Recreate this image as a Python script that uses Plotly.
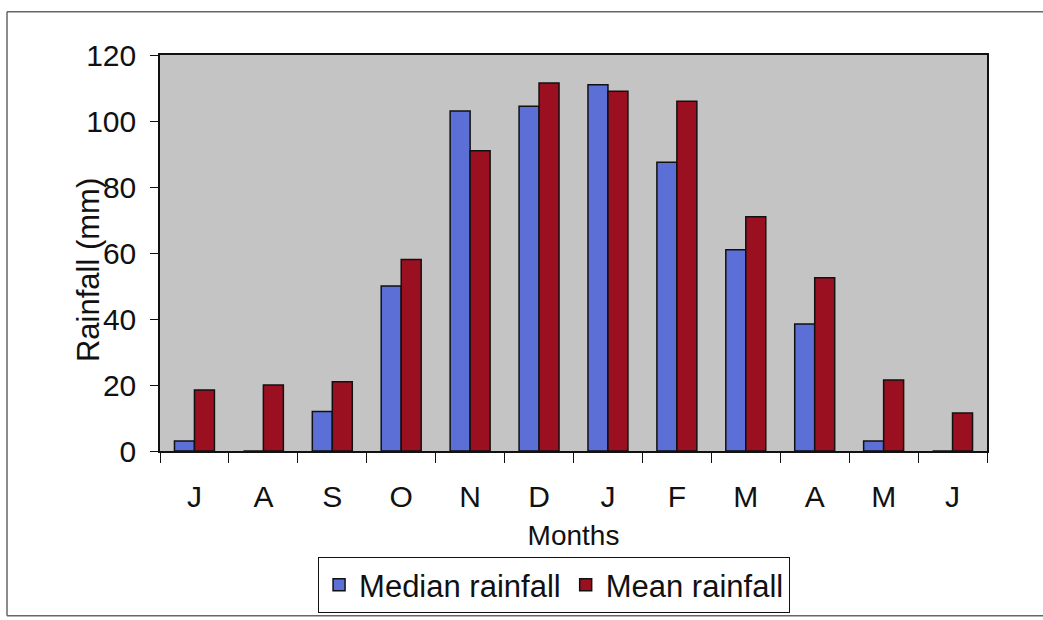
import plotly.graph_objects as go

months = ["Jul", "Aug", "Sep", "Oct", "Nov", "Dec", "Jan", "Feb", "Mar", "Apr", "May", "Jun"]
month_labels = ["J", "A", "S", "O", "N", "D", "J", "F", "M", "A", "M", "J"]
median_rainfall = [3, 0, 12, 50, 103, 104.5, 111, 87.5, 61, 38.5, 3, 0]
mean_rainfall = [18.5, 20, 21, 58, 91, 111.5, 109, 106, 71, 52.5, 21.5, 11.5]
y_ticks = [0, 20, 40, 60, 80, 100, 120]

FONT = "Liberation Sans, Arial, sans-serif"

fig = go.Figure()
fig.add_trace(go.Bar(x=months, y=median_rainfall, name="Median rainfall",
                     marker=dict(color="#5b6fd6", line=dict(color="#111111", width=1.5))))
fig.add_trace(go.Bar(x=months, y=mean_rainfall, name="Mean rainfall",
                     marker=dict(color="#9a1020", line=dict(color="#111111", width=1.5))))

fig.update_layout(
    width=1043, height=620,
    margin=dict(l=160, r=56, t=55, b=169, autoexpand=False),
    paper_bgcolor="white",
    plot_bgcolor="#c4c4c4",
    barmode="group",
    bargap=0.42,
    bargroupgap=0,
    font=dict(family=FONT, size=30, color="#111111"),
    showlegend=True,
    legend=dict(orientation="h", x=0.4765, xanchor="center", y=-0.268, yanchor="top",
                bgcolor="white", bordercolor="#111111", borderwidth=1,
                font=dict(size=31), itemwidth=30, tracegroupgap=0),
)
fig.update_xaxes(
    type="category", automargin=False,
    tickmode="array", tickvals=months, ticktext=month_labels,
    tickson="boundaries", ticks="outside", ticklen=10, tickcolor="#111111",
    ticklabelstandoff=18,
    showline=True, linecolor="#111111", linewidth=1.5, mirror=True,
    showgrid=False,
    tickfont=dict(size=30),
    title=dict(text="Months", font=dict(size=28), standoff=14),
)
fig.update_yaxes(
    range=[0, 120], tickmode="array", tickvals=y_ticks, automargin=False,
    ticks="outside", ticklen=8, tickcolor="#111111",
    ticklabelstandoff=8,
    showline=True, linecolor="#111111", linewidth=1.5, mirror=True,
    showgrid=False, zeroline=False,
    tickfont=dict(size=30),
)
fig.add_annotation(text="Rainfall (mm)", textangle=-90, xref="paper", yref="paper",
                   x=-0.087, y=0.457, xanchor="center", yanchor="middle",
                   showarrow=False, font=dict(size=31, color="#111111"))

# outer chart frame (scanned border)
frame = dict(type="line", xref="paper", yref="paper", line=dict(color="#666666", width=1.5))
fig.add_shape(**frame, x0=-0.185, x1=-0.185, y0=-0.416, y1=1.109)
fig.add_shape(**frame, x0=-0.185, x1=1.07, y0=1.109, y1=1.109)
fig.add_shape(**frame, x0=-0.185, x1=1.07, y0=-0.416, y1=-0.416)

fig.write_html("out.html")
